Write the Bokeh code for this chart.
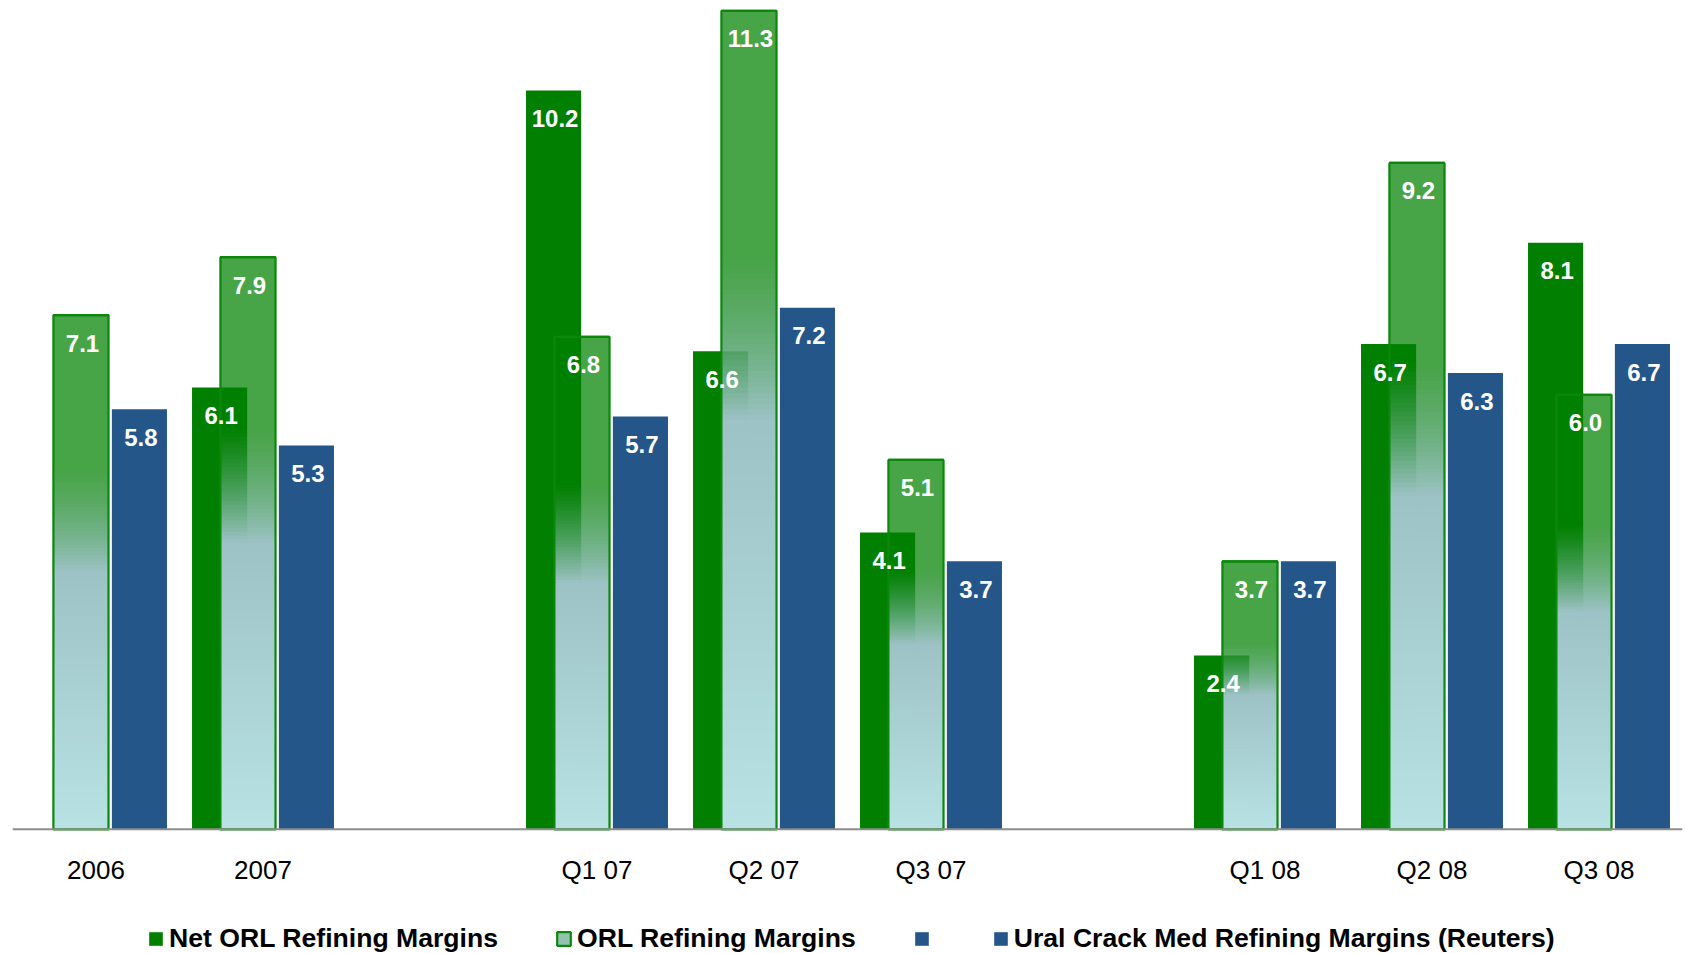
from bokeh.plotting import figure
from bokeh.models import Range1d, Legend, LegendItem, Span, ColumnDataSource
from bokeh.embed import file_html
from bokeh.resources import INLINE
from bokeh.core.properties import value

# ---------------- data ----------------
categories = ["2006", "2007", "", "Q1 07", "Q2 07", "Q3 07", "", "Q1 08", "Q2 08", "Q3 08"]
net_orl = [None, 6.1, None, 10.2, 6.6, 4.1, None, 2.4, 6.7, 8.1]
orl = [7.1, 7.9, None, 6.8, 11.3, 5.1, None, 3.7, 9.2, 6.0]
ural = [5.8, 5.3, None, 5.7, 7.2, 3.7, None, 3.7, 6.3, 6.7]
series_names = ["Net ORL Refining Margins", "ORL Refining Margins",
                "Ural Crack Med Refining Margins (Reuters)"]

# ---------------- styles ----------------
NET_RGB = (0, 127, 0)
NET_COLOR = "#007F00"
BLUE = "#25568A"
BORDER_GREEN = "#0A880A"
FONT = "Liberation Sans"
BAR_W = 0.33
OFF_NET, OFF_ORL, OFF_URAL = -0.26, -0.09, 0.26

p = figure(width=1684, height=952, x_range=Range1d(0, 10), y_range=Range1d(-1.70, 11.443),
           x_axis_type=None, y_axis_type=None, toolbar_location=None, output_backend="svg",
           min_border_left=12, min_border_right=2, min_border_top=0, min_border_bottom=0,
           outline_line_color=None)
p.grid.visible = False
p.background_fill_color = "white"

centers = [i + 0.5 for i in range(len(categories))]


def bar_src(vals, off):
    xs, ls, rs, ts = [], [], [], []
    for c, v in zip(centers, vals):
        if v is None:
            continue
        xs.append(c + off)
        ls.append(c + off - BAR_W / 2)
        rs.append(c + off + BAR_W / 2)
        ts.append(v)
    return dict(x=xs, left=ls, right=rs, top=ts, bottom=[0] * len(ts), label=["%.1f" % t for t in ts])


net_d = bar_src(net_orl, OFF_NET)
orl_d = bar_src(orl, OFF_ORL)
ural_d = bar_src(ural, OFF_URAL)

r_net = p.quad(left="left", right="right", top="top", bottom="bottom", source=ColumnDataSource(net_d),
               fill_color=NET_COLOR, line_color=None)
r_ural = p.quad(left="left", right="right", top="top", bottom="bottom", source=ColumnDataSource(ural_d),
                fill_color=BLUE, line_color=None)

# gradient fill of the ORL bars: translucent green at top -> pale cyan at bottom
stops = [(0.0, (0, 128, 0, 0.72)), (0.30, (0, 128, 0, 0.72)),
         (0.50, (157, 194, 197, 1.0)), (1.0, (184, 226, 229, 1.0))]


def grad(f):
    for (f0, c0), (f1, c1) in zip(stops[:-1], stops[1:]):
        if f0 <= f <= f1:
            t = 0 if f1 == f0 else (f - f0) / (f1 - f0)
            return tuple(c0[k] + (c1[k] - c0[k]) * t for k in range(4))
    return stops[-1][1]


def blend(c, bg):
    a = c[3]
    return "#%02x%02x%02x" % tuple(int(round(c[k] * a + bg[k] * (1 - a))) for k in range(3))


segments = [(0.0, 0.30, 1), (0.30, 0.50, 30), (0.50, 1.0, 30)]
full = dict(left=[], right=[], top=[], bottom=[], color=[])
over = dict(left=[], right=[], top=[], bottom=[], color=[])
for c, v, nv in zip(centers, orl, net_orl):
    if v is None:
        continue
    l = c + OFF_ORL - BAR_W / 2
    r = c + OFF_ORL + BAR_W / 2
    net_r = c + OFF_NET + BAR_W / 2
    for f0, f1, n in segments:
        for k in range(n):
            a = f0 + (f1 - f0) * k / n
            b = f0 + (f1 - f0) * (k + 1) / n
            col = grad((a + b) / 2 if n > 1 else a)
            yt = v * (1 - a)
            yb = max(0.0, v * (1 - b) - 0.012)
            full["left"].append(l)
            full["right"].append(r)
            full["top"].append(yt)
            full["bottom"].append(yb)
            full["color"].append(blend(col, (255, 255, 255)))
            if nv is not None and yb < nv:
                over["left"].append(l)
                over["right"].append(net_r)
                over["top"].append(min(yt, nv))
                over["bottom"].append(yb)
                over["color"].append(blend(col, NET_RGB))
p.quad(left="left", right="right", top="top", bottom="bottom", source=ColumnDataSource(full),
       fill_color="color", line_color=None)
p.quad(left="left", right="right", top="top", bottom="bottom", source=ColumnDataSource(over),
       fill_color="color", line_color=None)
p.quad(left="left", right="right", top="top", bottom="bottom", source=ColumnDataSource(orl_d),
       fill_color=None, line_color=BORDER_GREEN, line_width=2.2)
# zero-height copy of the ORL bar tops: only used as the legend swatch
r_orl_key = p.quad(left="left", right="right", top="top", bottom="top", source=ColumnDataSource(orl_d),
                   fill_color="#93C2B3", line_color=BORDER_GREEN, line_width=2.2)

# baseline
p.add_layout(Span(location=0, dimension="width", line_color="#8C8C8C", line_width=2))

# value labels
for d in (net_d, orl_d, ural_d):
    p.text(x="x", y="top", text="label", source=ColumnDataSource(d), x_offset=1.5, y_offset=28,
           text_align="center", text_baseline="middle", text_color="white",
           text_font=value(FONT), text_font_style="bold", text_font_size="24px")

# category labels
p.text(x=centers, y=[0] * len(centers), text=categories, y_offset=41,
       text_align="center", text_baseline="middle", text_color="black",
       text_font=value(FONT), text_font_size="26px")

# legend
legend = Legend(items=[LegendItem(label=series_names[0], renderers=[r_net]),
                       LegendItem(label=series_names[1], renderers=[r_orl_key]),
                       LegendItem(label="", renderers=[r_ural]),
                       LegendItem(label=series_names[2], renderers=[r_ural])],
                orientation="horizontal", location=(135, -2),
                glyph_width=17, glyph_height=17, label_standoff=5, spacing=57,
                padding=0, margin=0, border_line_color=None, background_fill_alpha=0,
                label_text_font=FONT, label_text_font_style="bold", label_text_font_size="26.6px",
                label_text_color="black", label_height=26, label_width=0)
p.add_layout(legend)

open("out.html", "w").write(file_html(p, INLINE))
